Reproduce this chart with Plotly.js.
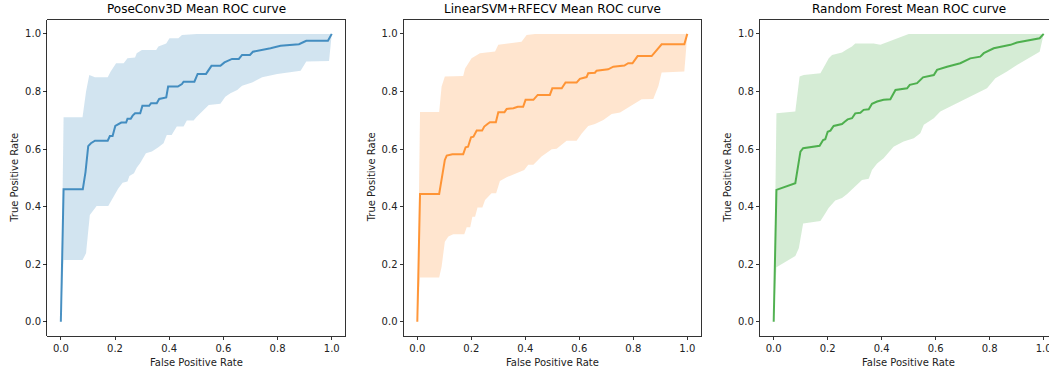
<!DOCTYPE html>
<html>
<head>
<meta charset="utf-8">
<script src="https://cdn.plot.ly/plotly-3.0.1.min.js"></script>
<style>
html,body{margin:0;padding:0;overflow:hidden;background:#fff;}
#chart{width:1058px;height:374px;}
</style>
</head>
<body>
<div id="chart"></div>
<script>
// ---- Data ----
const titles = ["PoseConv3D Mean ROC curve", "LinearSVM+RFECV Mean ROC curve", "Random Forest Mean ROC curve"];
const tickVals = [0, 0.2, 0.4, 0.6, 0.8, 1.0];
const tickText = ["0.0", "0.2", "0.4", "0.6", "0.8", "1.0"];

// PoseConv3D
const pc_fpr = [0, 0.0101, 0.081, 0.091, 0.101, 0.111, 0.126, 0.173, 0.181, 0.191, 0.201, 0.223, 0.241, 0.246, 0.258, 0.265, 0.274, 0.293, 0.301, 0.326, 0.333, 0.354, 0.363, 0.389, 0.396, 0.432, 0.447, 0.453, 0.493, 0.505, 0.536, 0.556, 0.589, 0.604, 0.632, 0.657, 0.669, 0.698, 0.709, 0.743, 0.774, 0.811, 0.879, 0.906, 0.986, 1.0];
const pc_tpr = [0, 0.46, 0.46, 0.52, 0.61, 0.62, 0.629, 0.629, 0.645, 0.645, 0.68, 0.692, 0.692, 0.705, 0.705, 0.716, 0.724, 0.724, 0.75, 0.75, 0.759, 0.759, 0.774, 0.779, 0.817, 0.817, 0.826, 0.834, 0.834, 0.861, 0.861, 0.889, 0.889, 0.901, 0.913, 0.913, 0.927, 0.927, 0.938, 0.944, 0.95, 0.959, 0.964, 0.976, 0.976, 1.0];
const pc_up_fpr = [0, 0.0101, 0.080, 0.093, 0.105, 0.126, 0.173, 0.184, 0.204, 0.232, 0.246, 0.274, 0.280, 0.299, 0.352, 0.360, 0.389, 0.401, 0.434, 0.447, 0.502, 1.0];
const pc_up = [0, 0.71, 0.71, 0.80, 0.857, 0.849, 0.849, 0.869, 0.898, 0.898, 0.915, 0.918, 0.933, 0.944, 0.944, 0.956, 0.967, 0.985, 0.985, 0.996, 1.0, 1.0];
const pc_lo_fpr = [0, 0.0101, 0.080, 0.093, 0.107, 0.132, 0.175, 0.184, 0.200, 0.212, 0.228, 0.246, 0.253, 0.270, 0.280, 0.293, 0.314, 0.336, 0.360, 0.379, 0.391, 0.409, 0.428, 0.453, 0.465, 0.490, 0.500, 0.546, 0.589, 0.607, 0.626, 0.651, 0.669, 0.706, 0.743, 0.799, 0.885, 0.906, 0.990, 1.0];
const pc_lo = [0, 0.2145, 0.2145, 0.2375, 0.371, 0.402, 0.402, 0.417, 0.44, 0.463, 0.483, 0.487, 0.506, 0.516, 0.535, 0.551, 0.585, 0.591, 0.606, 0.620, 0.649, 0.649, 0.678, 0.678, 0.699, 0.699, 0.71, 0.753, 0.757, 0.782, 0.794, 0.805, 0.820, 0.831, 0.849, 0.861, 0.872, 0.904, 0.906, 1.0];

// LinearSVM+RFECV
const sv_fpr = [0, 0.0101, 0.081, 0.102, 0.109, 0.130, 0.170, 0.179, 0.188, 0.199, 0.208, 0.220, 0.240, 0.248, 0.260, 0.269, 0.291, 0.300, 0.323, 0.331, 0.356, 0.372, 0.392, 0.401, 0.430, 0.446, 0.491, 0.500, 0.535, 0.549, 0.590, 0.602, 0.627, 0.633, 0.658, 0.664, 0.707, 0.726, 0.767, 0.781, 0.797, 0.816, 0.868, 0.886, 0.905, 0.989, 1.0];
const sv_tpr = [0, 0.444, 0.444, 0.562, 0.577, 0.582, 0.582, 0.606, 0.608, 0.641, 0.643, 0.664, 0.664, 0.678, 0.687, 0.693, 0.693, 0.728, 0.728, 0.739, 0.742, 0.747, 0.747, 0.771, 0.771, 0.788, 0.788, 0.811, 0.811, 0.831, 0.831, 0.844, 0.850, 0.863, 0.865, 0.872, 0.877, 0.886, 0.89, 0.898, 0.898, 0.923, 0.923, 0.942, 0.964, 0.964, 1.0];
const sv_up_fpr = [0, 0.0101, 0.081, 0.090, 0.102, 0.170, 0.177, 0.201, 0.232, 0.288, 0.300, 0.386, 0.405, 0.436, 1.0];
const sv_up = [0, 0.729, 0.729, 0.817, 0.852, 0.854, 0.880, 0.915, 0.933, 0.939, 0.962, 0.973, 0.996, 1.0, 1.0];
const sv_lo_fpr = [0, 0.0101, 0.081, 0.090, 0.102, 0.115, 0.133, 0.174, 0.183, 0.196, 0.204, 0.214, 0.223, 0.241, 0.251, 0.275, 0.292, 0.306, 0.331, 0.356, 0.377, 0.396, 0.411, 0.430, 0.460, 0.498, 0.516, 0.553, 0.590, 0.609, 0.633, 0.658, 0.689, 0.720, 0.751, 0.788, 0.831, 0.874, 0.893, 0.905, 0.989, 1.0];
const sv_lo = [0, 0.154, 0.154, 0.191, 0.278, 0.296, 0.304, 0.304, 0.328, 0.328, 0.365, 0.365, 0.397, 0.397, 0.423, 0.446, 0.446, 0.489, 0.502, 0.512, 0.519, 0.527, 0.545, 0.545, 0.574, 0.599, 0.601, 0.629, 0.629, 0.654, 0.680, 0.687, 0.701, 0.722, 0.727, 0.747, 0.773, 0.774, 0.819, 0.866, 0.869, 1.0];

// Random Forest
const rf_fpr = [0, 0.0101, 0.080, 0.099, 0.109, 0.170, 0.183, 0.191, 0.200, 0.210, 0.222, 0.253, 0.263, 0.274, 0.290, 0.302, 0.321, 0.333, 0.352, 0.364, 0.383, 0.407, 0.432, 0.451, 0.494, 0.504, 0.531, 0.553, 0.593, 0.605, 0.642, 0.691, 0.728, 0.765, 0.778, 0.815, 0.877, 0.901, 0.985, 1.0];
const rf_tpr = [0, 0.458, 0.481, 0.591, 0.603, 0.611, 0.631, 0.634, 0.660, 0.664, 0.680, 0.687, 0.695, 0.703, 0.707, 0.724, 0.726, 0.736, 0.738, 0.757, 0.765, 0.771, 0.773, 0.805, 0.811, 0.823, 0.829, 0.849, 0.857, 0.875, 0.886, 0.898, 0.915, 0.921, 0.933, 0.950, 0.962, 0.970, 0.985, 1.0];
const rf_up_fpr = [0, 0.0101, 0.080, 0.096, 0.111, 0.173, 0.183, 0.204, 0.216, 0.253, 0.272, 0.290, 0.302, 0.370, 0.395, 0.444, 0.500, 1.0];
const rf_up = [0, 0.724, 0.730, 0.852, 0.857, 0.863, 0.880, 0.915, 0.927, 0.935, 0.947, 0.956, 0.967, 0.967, 0.962, 0.979, 1.0, 1.0];
const rf_lo_fpr = [0, 0.0101, 0.080, 0.093, 0.109, 0.173, 0.185, 0.204, 0.228, 0.253, 0.272, 0.306, 0.327, 0.352, 0.364, 0.383, 0.407, 0.444, 0.481, 0.519, 0.543, 0.556, 0.593, 0.617, 0.654, 0.704, 0.753, 0.790, 0.821, 0.864, 0.901, 0.951, 0.985, 1.0];
const rf_lo = [0, 0.189, 0.228, 0.255, 0.341, 0.350, 0.367, 0.396, 0.421, 0.430, 0.444, 0.475, 0.492, 0.497, 0.527, 0.550, 0.568, 0.608, 0.626, 0.637, 0.655, 0.684, 0.707, 0.730, 0.747, 0.770, 0.794, 0.811, 0.846, 0.869, 0.892, 0.919, 0.938, 1.0];

// ---- Build chart ----
const W = 1058, H = 374;
const panels = [
  {fpr: pc_fpr, tpr: pc_tpr, ufpr: pc_up_fpr, up: pc_up, lfpr: pc_lo_fpr, lo: pc_lo, rgb: "31,119,180", px: [47.3, 345.3]},
  {fpr: sv_fpr, tpr: sv_tpr, ufpr: sv_up_fpr, up: sv_up, lfpr: sv_lo_fpr, lo: sv_lo, rgb: "255,127,14", px: [403.8, 700.8]},
  {fpr: rf_fpr, tpr: rf_tpr, ufpr: rf_up_fpr, up: rf_up, lfpr: rf_lo_fpr, lo: rf_lo, rgb: "44,160,44", px: [760.2, 1057.2]}
];
const FONT = "DejaVu Sans, Liberation Sans, sans-serif";
const yDom = [(H - 336.1) / H, (H - 19.5) / H];

const traces = [];
const layout = {
  width: W, height: H,
  margin: {l: 0, r: 0, t: 0, b: 0, pad: 0},
  paper_bgcolor: "#ffffff", plot_bgcolor: "#ffffff",
  showlegend: false,
  font: {family: FONT, size: 10, color: "#222"},
  annotations: []
};

panels.forEach((p, i) => {
  const n = i === 0 ? "" : String(i + 1);
  const xa = "x" + n, ya = "y" + n;
  traces.push({x: p.lfpr, y: p.lo, xaxis: xa, yaxis: ya, type: "scatter", mode: "lines",
    line: {width: 0, color: "rgba(" + p.rgb + ",0)"}, hoverinfo: "skip"});
  traces.push({x: p.ufpr, y: p.up, xaxis: xa, yaxis: ya, type: "scatter", mode: "lines",
    fill: "tonexty", fillcolor: "rgba(" + p.rgb + ",0.2)",
    line: {width: 0, color: "rgba(" + p.rgb + ",0)"}, hoverinfo: "skip"});
  traces.push({x: p.fpr, y: p.tpr, xaxis: xa, yaxis: ya, type: "scatter", mode: "lines",
    line: {width: 2, color: "rgba(" + p.rgb + ",0.8)"}});

  const axCommon = {
    range: [-0.05, 1.05], tickmode: "array", tickvals: tickVals, ticktext: tickText,
    ticks: "outside", ticklen: 3.5, tickwidth: 0.8, tickcolor: "#000",
    showline: true, linecolor: "#000", linewidth: 0.8, mirror: true,
    showgrid: false, zeroline: false, fixedrange: true,
    tickfont: {family: FONT, size: 10, color: "#222"}
  };
  layout["xaxis" + n] = Object.assign({}, axCommon, {domain: [p.px[0] / W, p.px[1] / W], anchor: ya});
  layout["yaxis" + n] = Object.assign({}, axCommon, {domain: yDom, anchor: xa});

  const cx = (p.px[0] + p.px[1]) / 2;
  layout.annotations.push({text: titles[i], xref: "paper", yref: "paper", x: cx / W, y: (H - 9) / H,
    xanchor: "center", yanchor: "middle", showarrow: false, font: {family: FONT, size: 12, color: "#000"}});
  layout.annotations.push({text: "False Positive Rate", xref: "paper", yref: "paper", x: cx / W, y: (H - 362.7) / H,
    xanchor: "center", yanchor: "middle", showarrow: false, font: {family: FONT, size: 10, color: "#222"}});
  layout.annotations.push({text: "True Positive Rate", xref: "paper", yref: "paper", x: (p.px[0] - 32.3) / W, y: (H - 177.8) / H,
    xanchor: "center", yanchor: "middle", textangle: -90, showarrow: false, font: {family: FONT, size: 10, color: "#222"}});
});

Plotly.newPlot("chart", traces, layout, {staticPlot: true, displayModeBar: false});
</script>
</body>
</html>
